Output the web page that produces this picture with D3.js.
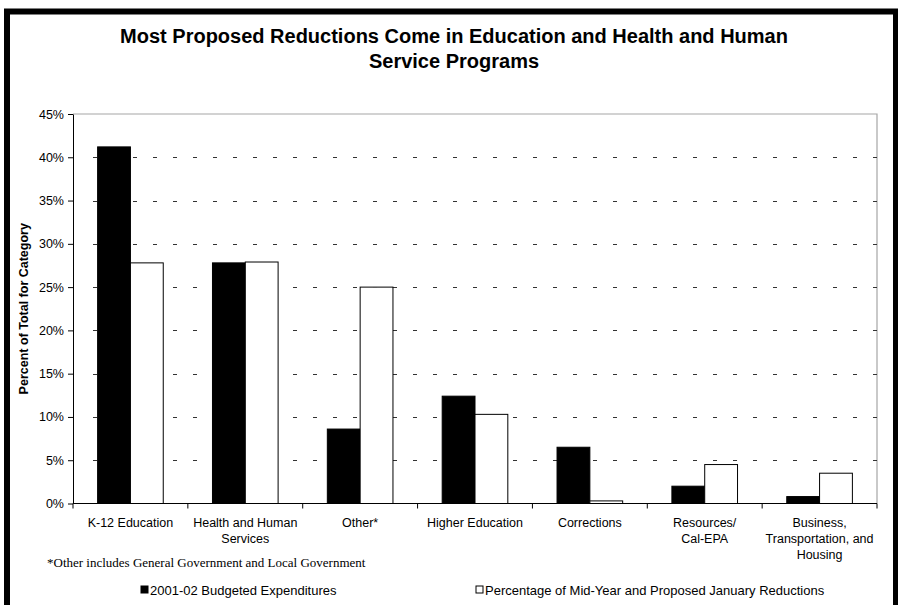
<!DOCTYPE html>
<html>
<head>
<meta charset="utf-8">
<script src="https://cdn.jsdelivr.net/npm/d3@7"></script>
<style>
  html, body { margin: 0; padding: 0; background: #fff; }
  svg { display: block; }
</style>
</head>
<body>
<svg id="chart" width="898" height="605"></svg>
<script>
// ---- data ----
const categories = [
  ["K-12 Education"],
  ["Health and Human", "Services"],
  ["Other*"],
  ["Higher Education"],
  ["Corrections"],
  ["Resources/", "Cal-EPA"],
  ["Business,", "Transportation, and", "Housing"]
];
const categoryKeys = ["K-12", "HHS", "Other", "HigherEd", "Corrections", "Resources", "Business"];
const seriesNames = ["2001-02 Budgeted Expenditures", "Percentage of Mid-Year and Proposed January Reductions"];
const budgeted   = [41.2, 27.8, 8.6, 12.4, 6.5, 2.0, 0.8];
const reductions = [27.8, 27.9, 25.0, 10.3, 0.3, 4.5, 3.5];
const yTicks = [0, 5, 10, 15, 20, 25, 30, 35, 40, 45];
const titleLines = ["Most Proposed Reductions Come in Education and Health and Human", "Service Programs"];
const yTitle = "Percent of Total for Category";
const footnote = "*Other includes General Government and Local Government";

// ---- layout ----
const SANS = "Arial, 'Liberation Sans', sans-serif";
const SERIF = "'Liberation Serif', 'Times New Roman', serif";
const svg = d3.select("#chart").style("font-family", SANS);
const plot = { left: 73, right: 877, top: 114, bottom: 503.5 };

// frame
svg.append("rect")
  .attr("x", 7).attr("y", 11.5)
  .attr("width", 889).attr("height", 620)
  .attr("fill", "none").attr("stroke", "#000").attr("stroke-width", 6);

// title
svg.append("text")
  .attr("text-anchor", "middle")
  .attr("font-size", 20).attr("font-weight", "bold")
  .selectAll("tspan").data(titleLines).join("tspan")
  .attr("x", 454).attr("y", (d, i) => 43 + i * 25)
  .text(d => d);

const x = d3.scaleBand().domain(categoryKeys).range([plot.left, plot.right]).paddingInner(0).paddingOuter(0);
const xs = d3.scaleBand().domain([0, 1]).range([0, x.bandwidth()]).paddingInner(0).paddingOuter(0.75);
const y = d3.scaleLinear().domain([0, 45]).range([plot.bottom, plot.top]);

// plot border (gray top/right)
svg.append("path")
  .attr("d", `M${plot.left},${plot.top}H${plot.right}V${plot.bottom}`)
  .attr("fill", "none").attr("stroke", "#a6a6a6").attr("stroke-width", 1.2);

// gridlines
svg.append("g").selectAll("line").data(yTicks.filter(t => t > 0 && t < 45)).join("line")
  .attr("x1", plot.left + 20).attr("x2", plot.right)
  .attr("y1", d => Math.round(y(d)) + 0.5).attr("y2", d => Math.round(y(d)) + 0.5)
  .attr("stroke", "#333").attr("stroke-width", 1)
  .attr("stroke-dasharray", "4,16");

// bars
const data = categoryKeys.map((k, i) => ({ k, vals: [budgeted[i], reductions[i]] }));
const groups = svg.append("g").selectAll("g").data(data).join("g")
  .attr("transform", d => `translate(${x(d.k)},0)`);
groups.selectAll("rect").data(d => d.vals.map((v, j) => ({ v, j }))).join("rect")
  .attr("x", d => xs(d.j))
  .attr("width", xs.bandwidth())
  .attr("y", d => y(d.v))
  .attr("height", d => plot.bottom - y(d.v))
  .attr("fill", d => d.j === 0 ? "#000" : "#fff")
  .attr("stroke", "#000").attr("stroke-width", 1);

// y axis
const yAxis = svg.append("g")
  .attr("transform", `translate(${plot.left},0)`)
  .call(d3.axisLeft(y).tickValues(yTicks).tickFormat(d => d + "%").tickSize(5).tickSizeOuter(0).tickPadding(4));
yAxis.selectAll("text").style("font-family", SANS).style("font-size", "12.5px").attr("fill", "#000");
yAxis.select(".domain").attr("stroke", "#000");

// x axis
const boundaries = categoryKeys.map(k => x(k)).concat([plot.right]);
const xAxis = svg.append("g");
xAxis.append("line")
  .attr("x1", plot.left).attr("x2", plot.right)
  .attr("y1", plot.bottom).attr("y2", plot.bottom)
  .attr("stroke", "#000").attr("stroke-width", 1);
xAxis.selectAll("line.tick").data(boundaries).join("line").attr("class", "tick")
  .attr("x1", d => d).attr("x2", d => d)
  .attr("y1", plot.bottom).attr("y2", plot.bottom + 5)
  .attr("stroke", "#000");
const labels = xAxis.selectAll("text").data(categoryKeys).join("text")
  .attr("text-anchor", "middle").style("font-size", "12.5px");
labels.each(function (k, i) {
  d3.select(this).selectAll("tspan").data(categories[i]).join("tspan")
    .attr("x", x(k) + x.bandwidth() / 2)
    .attr("y", (d, j) => 527 + j * 16)
    .text(d => d);
});

// y title
svg.append("text")
  .attr("transform", `translate(28,${(plot.top + plot.bottom) / 2}) rotate(-90)`)
  .attr("text-anchor", "middle").style("font-size", "12.5px").attr("font-weight", "bold")
  .text(yTitle);

// footnote
svg.append("text")
  .attr("x", 47).attr("y", 567)
  .style("font-family", SERIF)
  .style("font-size", "13px")
  .text(footnote);

// legend
const legendPos = [{ x: 141 }, { x: 476 }];
const leg = svg.append("g").selectAll("g").data(seriesNames).join("g")
  .attr("transform", (d, i) => `translate(${legendPos[i].x},586)`);
leg.append("rect").attr("width", 7).attr("height", 7)
  .attr("fill", (d, i) => i === 0 ? "#000" : "#fff")
  .attr("stroke", "#000").attr("stroke-width", 1);
leg.append("text").attr("x", 9).attr("y", 8.5).style("font-size", "13px").text(d => d);
</script>
</body>
</html>
